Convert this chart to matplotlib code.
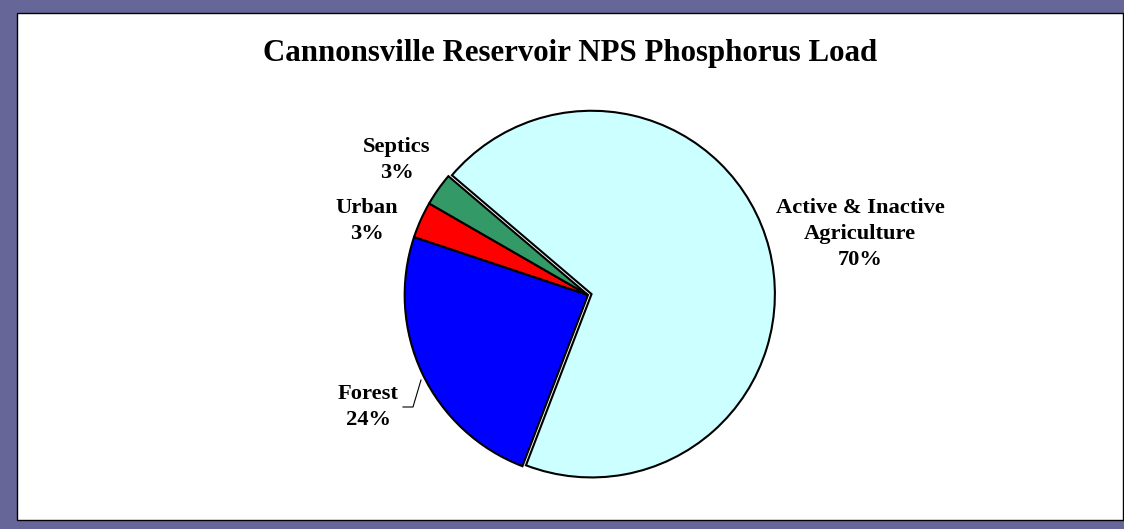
import matplotlib.pyplot as plt
from matplotlib.patches import Rectangle

# slice data, clockwise from the top-left edge of the agriculture slice
labels = ['Active & Inactive\nAgriculture', 'Forest', 'Urban', 'Septics']
values = [69.6, 24.3, 3.2, 2.9]
colors = ['#CCFFFF', '#0000FF', '#FF0000', '#339966']
explode = [0.02, 0, 0, 0]

W, H = 1124, 529
fig = plt.figure(figsize=(W / 100, H / 100), dpi=100, facecolor='#666699')

# white plot area with a thin frame
fig.patches.append(Rectangle((17 / W, 1 - 520 / H), (1123 - 17) / W, (520 - 13) / H,
                             transform=fig.transFigure, facecolor='white',
                             edgecolor='black', linewidth=1.0, zorder=-5))

font = dict(family='Liberation Serif', weight='bold')

fig.text(570 / W, 1 - 53 / H, 'Cannonsville Reservoir NPS Phosphorus Load',
         ha='center', va='center', fontsize=22.2, **font)

# pie centre (588, 295) px, radius ~183 px
side = 440
lim = 1.2
ax = fig.add_axes([(588 - side / 2) / W, (H - 295 - side / 2) / H, side / W, side / H])

wedges, _ = ax.pie(values, colors=colors, explode=explode, startangle=139.6,
                   counterclock=False, radius=1.0,
                   wedgeprops=dict(edgecolor='black', linewidth=1.5))
ax.set_xlim(-lim, lim)
ax.set_ylim(-lim, lim)
ax.set_aspect('equal')
ax.axis('off')

r = side / (2 * lim)  # pixels per data unit


def px(x, y):
    return ((x - 588) / r, (295 - y) / r)


pct = [f'{round(v):d}%' for v in values]
pos = [(860, 234), (368, 407), (367, 221), (397, 160)]
for lab, p, (x, y) in zip(labels, pct, pos):
    ax.text(*px(x, y), f'{lab}\n{p}', ha='center', va='center', fontsize=16.2,
            linespacing=1.4, **font)

# leader line for Forest
xs, ys = zip(px(403, 407), px(413, 407), px(421, 380))
ax.plot(xs, ys, color='black', linewidth=0.8, clip_on=False)

fig.savefig('out.png', dpi=100, facecolor=fig.get_facecolor())
